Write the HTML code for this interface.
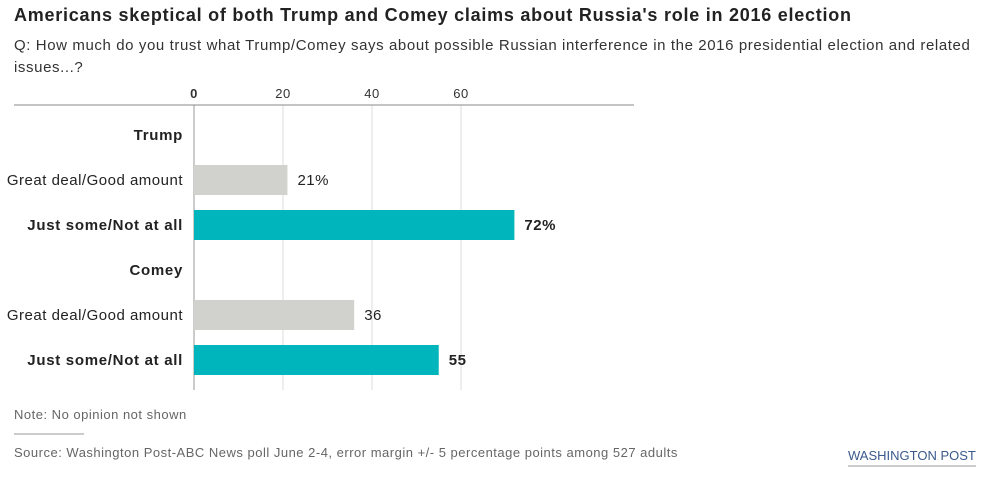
<!DOCTYPE html>
<html><head><meta charset="utf-8"><style>
body{margin:0;width:998px;height:480px;background:#fff;font-family:"Liberation Sans",sans-serif;overflow:hidden;position:relative}
.t{position:absolute;white-space:nowrap}
</style></head><body>
<div class="t" style="left:14px;top:5px;font-size:18px;font-weight:bold;color:#222;letter-spacing:0.75px">Americans skeptical of both Trump and Comey claims about Russia's role in 2016 election</div>
<div class="t" style="left:14px;top:35px;font-size:15px;color:#333;line-height:22px;white-space:normal;width:970px;letter-spacing:0.6px">Q: How much do you trust what Trump/Comey says about possible Russian interference in the 2016 presidential election and related issues...?</div>
<svg id="c" width="998" height="400" style="position:absolute;left:0;top:0" font-family="Liberation Sans, sans-serif"></svg>
<div class="t" style="left:14px;top:407px;font-size:13px;color:#666;letter-spacing:0.5px">Note: No opinion not shown</div>
<div style="position:absolute;left:14px;top:433px;width:70px;height:2px;background:#ccc"></div>
<div class="t" style="left:14px;top:445px;font-size:13px;color:#666;letter-spacing:0.5px">Source: Washington Post-ABC News poll June 2-4, error margin +/- 5 percentage points among 527 adults</div>
<div class="t" style="left:848px;top:448px;font-size:13px;color:#3a5a8c;border-bottom:2px solid #ccc;padding-bottom:2px">WASHINGTON POST</div>
<script>
const ticks=[0,20,40,60];
const rowLabels=["Trump","Great deal/Good amount","Just some/Not at all","Comey","Great deal/Good amount","Just some/Not at all"];
const values=[null,21,72,null,36,55];
const valueLabels=["","21%","72%","","36","55"];
const rowTypes=["head","light","dark","head","light","dark"];
const svg=document.getElementById('c');const NS='http://www.w3.org/2000/svg';
const x=v=>194+v*4.45;const yRow=i=>135+i*45;
function mk(t,a){const e=document.createElementNS(NS,t);for(const k in a)e.setAttribute(k,a[k]);svg.appendChild(e);return e;}
ticks.forEach(t=>{
 const l=mk('line',{x1:x(t),x2:x(t),y1:105,y2:390,stroke:t===0?'#999':'#ddd','stroke-width':1});
 
 
 const tx=mk('text',{x:x(t),y:98,'text-anchor':'middle','font-size':13,fill:'#333','font-weight':t===0?'bold':'normal','letter-spacing':0.5});tx.textContent=t;
 
 
});
const ax=mk('line',{x1:14,x2:634,y1:105,y2:105,stroke:'#888','stroke-width':1});


rowLabels.forEach((lab,i)=>{
 const cy=yRow(i);const typ=rowTypes[i];
 const t=mk('text',{x:183,y:cy+5,'text-anchor':'end','font-size':15,fill:'#222','font-weight':typ==='light'?'normal':'bold','letter-spacing':typ==='light'?0.5:0.7});t.textContent=lab;
 
 
 if(values[i]!=null){
  const r=mk('rect',{x:x(0),y:cy-15,width:x(values[i])-x(0),height:30,fill:typ==='dark'?'#00b5bc':'#d1d1cd'});
  
  
  const v=mk('text',{x:x(values[i])+10,y:cy+5,'font-size':15,fill:'#222','font-weight':typ==='dark'?'bold':'normal','letter-spacing':0.5});v.textContent=valueLabels[i];
  
  
 }
});
</script>
</body></html>
